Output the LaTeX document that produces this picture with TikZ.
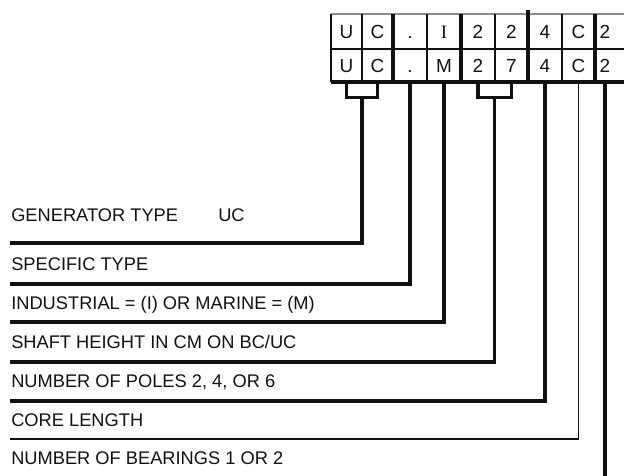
\documentclass[tikz,border=0pt]{standalone}
\usepackage{fontspec}
\setmainfont{Liberation Sans}
\newfontfamily\serifI{Liberation Serif}
\definecolor{ink}{HTML}{111111}
\definecolor{rule}{HTML}{8C8C8C}
\tikzset{
  cell/.style={
    rectangle, draw=none, inner sep=0pt,
    minimum height=24.75pt, text height=10pt, text depth=0pt,
    font=\fontsize{14.2}{17}\selectfont, text=ink
  },
  lbl/.style={
    anchor=base west, inner sep=0pt,
    font=\fontsize{13.7}{16}\selectfont, text=ink
  },
  conn/.style={draw=ink, line width=2.5pt},
  connthin/.style={draw=ink, line width=1.3pt},
  gridthin/.style={draw=ink, line width=0.8pt},
  gridmid/.style={draw=ink, line width=1.5pt},
  gridtop/.style={draw=rule, line width=0.9pt},
  gridthick/.style={draw=ink, line width=2.5pt}
}

\begin{document}
\begin{tikzpicture}[x=0.75pt, y=-0.75pt]

\useasboundingbox (0,0) rectangle (624,475);
\clip (0,0) rectangle (624,475);

% ── Code cells: top row UC-I224C2, bottom row UC-M274C2 ──────────
\foreach \n/\xl/\xr/\up/\dn in {1/331/362/U/U, 2/362/393/C/C,
    3/393/427/./., 4/427/461/{\serifI I}/M, 5/461/495/2/2,
    6/495/528/2/7, 7/528/562/4/4, 8/562/595/C/C, 9/595/615/2/2}{
  \pgfmathsetmacro{\w}{(\xr-\xl)*0.75}
  \node[cell, minimum width=\w pt] (t\n) at ({(\xl+\xr)/2}, 31.5) {\up};
  \node[cell, minimum width=\w pt] (b\n) at ({(\xl+\xr)/2}, 65.5) {\dn};
}

% ── Grid rules ────────────────────────────────────────────────────
\draw[gridtop]   (331,14) -- (630,14);
\draw[gridmid]   (331,49) -- (630,49);
\draw[gridthick] (331,82) -- (630,82);
\foreach \x in {331,362,427,495,562}
  \draw[gridthin] (\x,14) -- (\x,82);
\foreach \x in {393,461,595}
  \draw[gridthick] (\x,14) -- (\x,82);
\draw[gridthick] (528,10) -- (528,82);

% ── Legend texts ──────────────────────────────────────────────────
\node[lbl] (gen)   at (11,221) {\makebox[155.25pt][l]{GENERATOR TYPE}UC};
\node[lbl] (spec)  at (11,270) {SPECIFIC TYPE};
\node[lbl] (ind)   at (11,309) {INDUSTRIAL = (I) OR MARINE = (M)};
\node[lbl] (shaft) at (11,348) {SHAFT HEIGHT IN CM ON BC/UC};
\node[lbl] (poles) at (11,387) {NUMBER OF POLES 2, 4, OR 6};
\node[lbl] (core)  at (11,426) {CORE LENGTH};
\node[lbl] (bear)  at (11,464) {NUMBER OF BEARINGS 1 OR 2};

% ── Line ends under each text ─────────────────────────────────────
\coordinate (genend)   at (10,243);
\coordinate (specend)  at (10,284);
\coordinate (indend)   at (10,322);
\coordinate (shaftend) at (10,362);
\coordinate (polesend) at (10,401);
\coordinate (coreend)  at (10,439);
\coordinate (bearend)  at (605,480);

% ── Connectors ────────────────────────────────────────────────────
\draw[conn] (b1.south) -- ++(0,15) -| coordinate[pos=0.25] (ucmid) (b2.south);
\draw[conn] (ucmid) |- (genend);
\draw[conn] (b3.south) |- (specend);
\draw[conn] (b4.south) |- (indend);
\draw[conn] (b5.south) -- ++(0,15) -| coordinate[pos=0.25] (shmid) (b6.south);
\draw[conn] (shmid) |- (shaftend);
\draw[conn] (b7.south) |- (polesend);
\draw[connthin] (b8.south) |- (coreend);
\draw[conn] (b9.south) -- (bearend);

\end{tikzpicture}
\end{document}
